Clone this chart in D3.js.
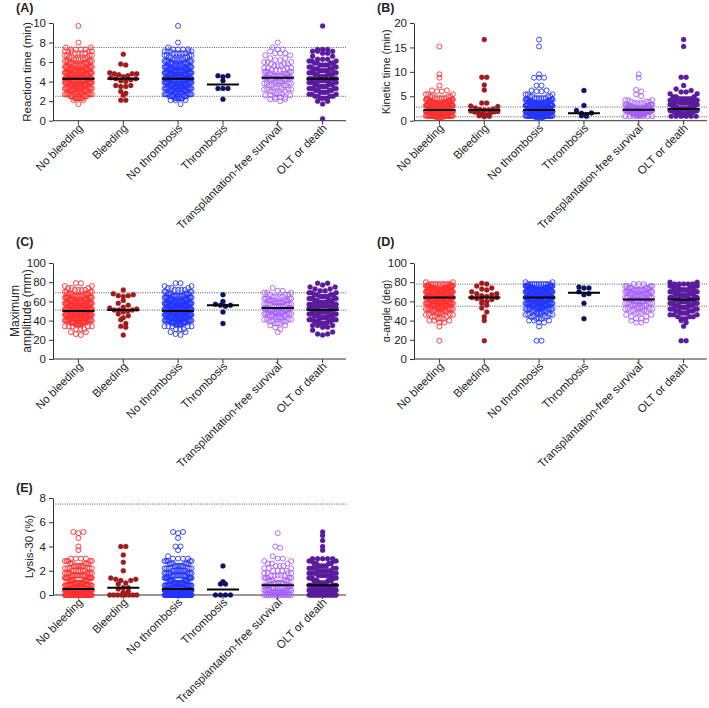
<!DOCTYPE html>
<html><head><meta charset="utf-8">
<script src="https://cdn.jsdelivr.net/npm/d3@7/dist/d3.min.js"></script>
<style>
body{margin:0;background:#fff}
text{font-family:"Liberation Sans",Arial,Helvetica,sans-serif;fill:#222}
</style></head>
<body><svg id="chart" width="709" height="708"></svg>
<script>
// ---------- categories & styles ----------
const categories = ["No bleeding","Bleeding","No thrombosis","Thrombosis","Transplantation-free survival","OLT or death"];
const pairGroups = ["bleeding","thrombosis","outcome"];
const colors = ["#ff3030","#a01b1e","#2234ff","#0d1363","#a55cff","#5a1c9c"];
const filled = [false,true,false,true,false,true];

// ---------- (A) Reaction time ([value,count] or single values) ----------
const rtNoBleeding = [[9.7,1],[8.0,1],[7.5,2],[7.3,4],[7.1,5],[6.9,4],[6.7,4],[6.5,3],[6.3,6],[6.1,6],[5.9,6],[5.7,7],[5.5,8],[5.3,9],[5.1,10],[4.9,11],[4.7,12],[4.5,14],[4.3,14],[4.1,13],[3.9,12],[3.7,12],[3.5,11],[3.3,10],[3.1,9],[2.9,9],[2.7,8],[2.5,6],[2.3,7],[2.1,2],[1.7,1]];
const rtBleeding = [6.8,5.8,5.7,4.9,4.8,4.8,4.8,4.7,4.6,4.5,4.4,4.3,4.3,4.2,4.1,4.0,3.6,3.6,3.5,3.5,3.0,2.8,2.6,2.1,2.1];
const rtNoThrombosis = [[9.7,1],[8.0,1],[7.5,1],[7.3,4],[7.1,5],[6.9,5],[6.7,4],[6.5,4],[6.3,6],[6.1,7],[5.9,7],[5.7,7],[5.5,9],[5.3,10],[5.1,11],[4.9,12],[4.7,13],[4.5,14],[4.3,15],[4.1,15],[3.9,13],[3.7,12],[3.5,12],[3.3,10],[3.1,10],[2.9,9],[2.7,8],[2.5,7],[2.3,7],[2.1,3],[1.7,1]];
const rtThrombosis = [4.6,4.6,4.5,4.1,3.3,3.3,3.3,2.2];
const rtTFS = [[8.0,1],[7.5,1],[7.3,2],[7.1,1],[6.9,3],[6.7,2],[6.4,2],[6.2,2],[6.0,3],[5.8,3],[5.6,3],[5.4,4],[5.2,4],[5.0,5],[4.8,5],[4.6,6],[4.4,6],[4.2,5],[4.0,5],[3.8,4],[3.6,4],[3.4,4],[3.2,4],[3.0,3],[2.8,3],[2.6,3],[2.4,3],[2.2,3],[2.0,1]];
const rtOLT = [[9.7,1],[7.3,3],[7.1,3],[6.9,2],[6.6,2],[6.3,3],[6.1,3],[5.9,4],[5.7,4],[5.5,4],[5.3,5],[5.1,5],[4.9,5],[4.7,5],[4.5,4],[4.3,6],[4.1,6],[3.9,5],[3.7,5],[3.5,5],[3.3,5],[3.1,4],[2.9,4],[2.7,3],[2.5,4],[2.3,3],[2.0,2],[1.7,1],[0.2,1]];

// ---------- (B) Kinetic time ----------
const ktNoBleeding = [[15.2,1],[9.5,1],[8.8,1],[7.2,1],[6.2,2],[6.0,2],[5.4,3],[5.0,4],[4.6,6],[4.3,7],[4.0,9],[3.7,10],[3.4,12],[3.1,13],[2.8,15],[2.5,17],[2.2,19],[1.9,21],[1.6,22],[1.3,22],[1.0,20],[0.8,10]];
const ktBleeding = [16.6,8.9,8.9,7.3,6.3,3.6,3.6,3.0,2.9,2.6,2.4,2.3,2.2,2.2,2.0,1.9,1.8,1.8,1.6,1.5,1.4,1.2,1.0,0.9,0.8];
const ktNoThrombosis = [[16.6,1],[15.2,1],[9.5,1],[8.8,3],[7.2,2],[6.2,2],[6.0,2],[5.4,3],[5.0,4],[4.6,6],[4.3,7],[4.0,9],[3.7,11],[3.4,12],[3.1,14],[2.8,16],[2.5,18],[2.2,20],[1.9,22],[1.6,23],[1.3,23],[1.0,21],[0.8,11]];
const ktThrombosis = [6.2,3.1,2.1,1.6,1.5,1.2,1.0,0.9];
const ktTFS = [[9.5,1],[8.8,1],[6.3,1],[6.0,1],[5.4,1],[5.0,1],[4.2,3],[3.9,3],[3.6,4],[3.3,6],[3.0,7],[2.7,8],[2.4,10],[2.1,10],[1.8,10],[1.5,10],[1.2,10],[0.9,7]];
const ktOLT = [[16.6,1],[15.2,1],[8.9,2],[7.2,1],[6.5,1],[6.2,1],[5.9,2],[5.5,2],[4.9,3],[4.5,5],[4.2,5],[3.9,6],[3.6,6],[3.3,6],[3.0,5],[2.7,5],[2.4,12],[2.1,10],[1.8,9],[1.5,8],[1.2,8],[0.9,6]];

// ---------- (C) Maximum amplitude ----------
const maNoBleeding = [[79,2],[76,2],[74,3],[72,4],[70,4],[68,6],[66,7],[64,9],[62,10],[60,11],[58,12],[56,12],[54,13],[52,13],[50,14],[48,14],[46,14],[44,13],[42,13],[40,12],[38,10],[36,7],[34,5],[31,3],[28,2],[26,1],[25,1]];
const maBleeding = [72,68,67,66,66,65,61,58,56,54,53,52,51,51,51,50,49,47,45,43,41,37,34,33,25];
const maNoThrombosis = [[79,2],[76,2],[74,3],[72,4],[70,4],[68,6],[66,8],[64,9],[62,11],[60,12],[58,13],[56,13],[54,14],[52,14],[50,15],[48,15],[46,15],[44,14],[42,14],[40,13],[38,10],[36,8],[34,5],[31,3],[28,2],[26,1],[25,1]];
const maThrombosis = [67,60,57,56,56,55,49,37];
const maTFS = [[74,1],[71,2],[69,3],[67,3],[65,4],[63,5],[61,6],[59,6],[57,7],[55,7],[53,6],[51,7],[49,7],[47,6],[45,5],[43,5],[41,4],[39,4],[37,3],[35,2],[33,1],[31,1],[28,1]];
const maOLT = [[79,2],[77,1],[75,2],[73,2],[71,2],[69,3],[67,4],[65,4],[63,5],[61,5],[59,5],[57,6],[55,6],[53,6],[51,7],[49,7],[47,7],[45,6],[43,6],[41,6],[39,5],[37,4],[35,3],[33,2],[30,1],[28,1],[26,2],[25,1]];

// ---------- (D) alpha-angle ----------
const angNoBleeding = [[80,2],[78,10],[76,12],[74,14],[72,15],[70,16],[68,16],[66,16],[64,15],[62,14],[60,13],[58,12],[56,11],[54,9],[52,8],[50,6],[48,5],[46,4],[44,3],[42,3],[40,3],[38,2],[34,1],[19,1]];
const angBleeding = [79,78,76,74,73,72,70,68,68,67,66,65,64,64,63,62,61,60,58,56,53,49,44,40,19];
const angNoThrombosis = [[80,2],[78,11],[76,13],[74,15],[72,16],[70,17],[68,17],[66,17],[64,16],[62,15],[60,14],[58,13],[56,12],[54,9],[52,8],[50,6],[48,5],[46,4],[44,4],[42,3],[40,3],[38,2],[34,1],[19,2]];
const angThrombosis = [75,74,74,70,68,67,58,42];
const angTFS = [[78,3],[76,4],[74,6],[72,7],[70,7],[68,7],[66,7],[64,6],[62,7],[60,7],[58,6],[56,5],[54,4],[52,4],[50,4],[48,3],[46,2],[44,2],[42,2],[40,2],[38,2]];
const angOLT = [[80,2],[78,5],[76,6],[74,7],[72,7],[70,7],[68,7],[66,7],[64,7],[62,7],[60,7],[58,6],[56,6],[54,5],[52,5],[50,5],[48,4],[46,3],[44,3],[42,2],[40,1],[38,1],[34,1],[19,2]];

// ---------- (E) Lysis-30 ----------
const lyNoBleeding = [[5.2,2],[5.1,1],[4.7,1],[4.0,1],[3.7,1],[3.0,4],[2.8,5],[2.6,5],[2.4,6],[2.2,6],[2.0,7],[1.8,8],[1.6,9],[1.4,10],[1.2,11],[1.0,12],[0.8,14],[0.6,16],[0.4,30],[0.2,40],[0.0,49]];
const lyBleeding = [4.0,4.0,3.3,2.7,2.0,1.4,1.3,1.3,1.2,1.2,1.0,0.9,0.6,0.6,0.5,0.3,0.2,0,0,0,0,0,0,0,0];
const lyNoThrombosis = [[5.2,2],[5.1,1],[4.7,1],[4.0,2],[3.7,1],[3.2,1],[3.0,4],[2.8,5],[2.6,6],[2.4,6],[2.2,7],[2.0,8],[1.8,9],[1.6,10],[1.4,11],[1.2,12],[1.0,14],[0.8,16],[0.6,18],[0.4,34],[0.2,44],[0.0,56]];
const lyThrombosis = [2.4,1.1,0.9,0.9,0,0,0,0];
const lyTFS = [[5.1,1],[4.0,1],[3.9,1],[3.2,1],[3.0,2],[2.8,2],[2.6,3],[2.4,3],[2.2,3],[2.0,4],[1.8,4],[1.6,5],[1.4,5],[1.2,6],[1.0,6],[0.8,7],[0.6,8],[0.4,10],[0.2,12],[0.0,14]];
const lyOLT = [[5.2,1],[4.9,1],[4.5,1],[4.0,1],[3.7,1],[3.0,5],[2.8,4],[2.6,4],[2.4,4],[2.2,5],[2.0,5],[1.8,5],[1.6,5],[1.4,6],[1.2,6],[1.0,6],[0.8,7],[0.6,8],[0.4,12],[0.2,14],[0.0,20]];

// ---------- axis ticks & reference ranges ----------
const ticksA = [0,2,4,6,8,10], refA = [2.5,7.5];
const ticksB = [0,5,10,15,20], refB = [0.8,2.8];
const ticksC = [0,20,40,60,80,100], refC = [51,69];
const ticksD = [0,20,40,60,80,100], refD = [55,78];
const ticksE = [0,2,4,6,8], refE = [7.5];

const panels = [
  {letter:"(A)", title:["Reaction time (min)"], ticks:ticksA, ref:refA, groups:[rtNoBleeding,rtBleeding,rtNoThrombosis,rtThrombosis,rtTFS,rtOLT],
   ox:53, top:23, bottom:120.7, lx:16, ly:11.5, tx:[31], tsize:11.5},
  {letter:"(B)", title:["Kinetic time (min)"], ticks:ticksB, ref:refB, groups:[ktNoBleeding,ktBleeding,ktNoThrombosis,ktThrombosis,ktTFS,ktOLT],
   ox:414, top:23, bottom:120.7, lx:377, ly:11.5, tx:[390], tsize:11},
  {letter:"(C)", title:["Maximum","amplitude (mm)"], ticks:ticksC, ref:refC, groups:[maNoBleeding,maBleeding,maNoThrombosis,maThrombosis,maTFS,maOLT],
   ox:53, top:263, bottom:359, lx:16, ly:246, tx:[18.5,31], tsize:12},
  {letter:"(D)", title:["\u03b1-angle (deg)"], ticks:ticksD, ref:refD, groups:[angNoBleeding,angBleeding,angNoThrombosis,angThrombosis,angTFS,angOLT],
   ox:414, top:263, bottom:359, lx:377, ly:246, tx:[390], tsize:10.5},
  {letter:"(E)", title:["Lysis-30 (%)"], ticks:ticksE, ref:refE, groups:[lyNoBleeding,lyBleeding,lyNoThrombosis,lyThrombosis,lyTFS,lyOLT],
   ox:53, top:498, bottom:595, lx:16, ly:492, tx:[33], tsize:11.5}
];

const expand = arr => arr.flatMap(e => Array.isArray(e) ? Array(e[1]).fill(e[0]) : [e]);

const svg = d3.select("#chart");
svg.append("rect").attr("width",709).attr("height",708).attr("fill","#fff");

const W = 293;          // x-axis length
const R = 2.5;          // symbol radius
const D = 5;            // symbol spacing
const ROW = 5.5;        // vertical bin height (px)
const HALF = 13.5;      // max half-width of a column
const MED = 16;         // half-length of median bar

// grouped x positions: three pairs
const outer = d3.scaleBand().domain(pairGroups).range([-2, W + 4]);
const inner = d3.scalePoint().domain([0,1]).range([0, outer.bandwidth()]).padding(0.61);
const xPos = d3.scaleOrdinal().domain(categories)
  .range(categories.map((c,i) => outer(pairGroups[Math.floor(i/2)]) + inner(i % 2)));

function swarm(vals, y, cx) {
  const pts = vals.map(v => ({v, py: y(v)}));
  const bins = d3.group(pts, p => Math.floor(p.py / ROW));
  const out = [];
  for (const [, row] of bins) {
    row.sort((a,b) => a.v - b.v);
    const n = row.length;
    const s = n > 1 ? Math.min(D, 2*HALF/(n-1)) : 0;
    const slots = d3.range(n).map(i => (i - (n-1)/2) * s)
      .sort((a,b) => Math.abs(a) - Math.abs(b) || b - a);
    row.forEach((p,i) => out.push({x: cx + slots[i], y: p.py}));
  }
  return out;
}

panels.forEach(p => {
  const g = svg.append("g").attr("transform", `translate(${p.ox},0)`);
  const vmax = p.ticks[p.ticks.length-1];
  const y = d3.scaleLinear().domain([0, vmax]).range([p.bottom, p.top]);

  // reference (dotted) lines
  g.selectAll("line.ref").data(p.ref).join("line")
    .attr("x1",0).attr("x2",W).attr("y1",d=>y(d)).attr("y2",d=>y(d))
    .attr("stroke","#555").attr("stroke-width",1).attr("stroke-dasharray","1,1.3");

  // y axis
  const ya = g.append("g").call(d3.axisLeft(y).tickValues(p.ticks).tickSize(4).tickSizeOuter(0).tickPadding(3));
  ya.select(".domain").attr("stroke","#333");
  ya.selectAll(".tick line").attr("stroke","#333");
  ya.selectAll(".tick text").attr("font-size",11.5).attr("fill","#222")
    .attr("font-family",'"Liberation Sans",Arial,sans-serif');

  // x axis
  g.append("line").attr("x1",0).attr("x2",W).attr("y1",p.bottom).attr("y2",p.bottom)
    .attr("stroke","#333").attr("stroke-width",1);
  g.selectAll("line.xt").data(categories).join("line")
    .attr("x1",d=>xPos(d)).attr("x2",d=>xPos(d)).attr("y1",p.bottom).attr("y2",p.bottom+4)
    .attr("stroke","#333");
  g.selectAll("text.xl").data(categories).join("text")
    .attr("text-anchor","end").attr("font-size",11.4)
    .attr("transform",d=>`translate(${xPos(d)+5},${p.bottom+8}) rotate(-45)`)
    .text(d=>d);

  // points
  p.groups.forEach((grp,i) => {
    const vals = expand(grp).sort((a,b)=>a-b);
    const cx = xPos(categories[i]);
    const pts = swarm(vals, y, cx);
    g.append("g").selectAll("circle").data(pts).join("circle")
      .attr("cx",d=>d.x).attr("cy",d=>d.y)
      .attr("r", R)
      .attr("fill", filled[i] ? colors[i] : "none")
      .attr("stroke", colors[i]).attr("stroke-width", filled[i] ? 0.3 : 0.9);
    const m = d3.median(vals);
    g.append("line").attr("x1",cx-MED).attr("x2",cx+MED).attr("y1",y(m)).attr("y2",y(m))
      .attr("stroke","#000").attr("stroke-width",2);
  });

  // y title (absolute x positions)
  const cy = (p.top + p.bottom)/2;
  p.title.forEach((t,k) => {
    svg.append("text").attr("text-anchor","middle").attr("font-size",p.tsize)
      .attr("transform",`translate(${p.tx[k]},${cy}) rotate(-90)`).text(t);
  });
  // panel letter
  svg.append("text").attr("x",p.lx).attr("y",p.ly).attr("font-size",12.5)
    .attr("font-weight","bold").text(p.letter);
});
</script></body></html>
